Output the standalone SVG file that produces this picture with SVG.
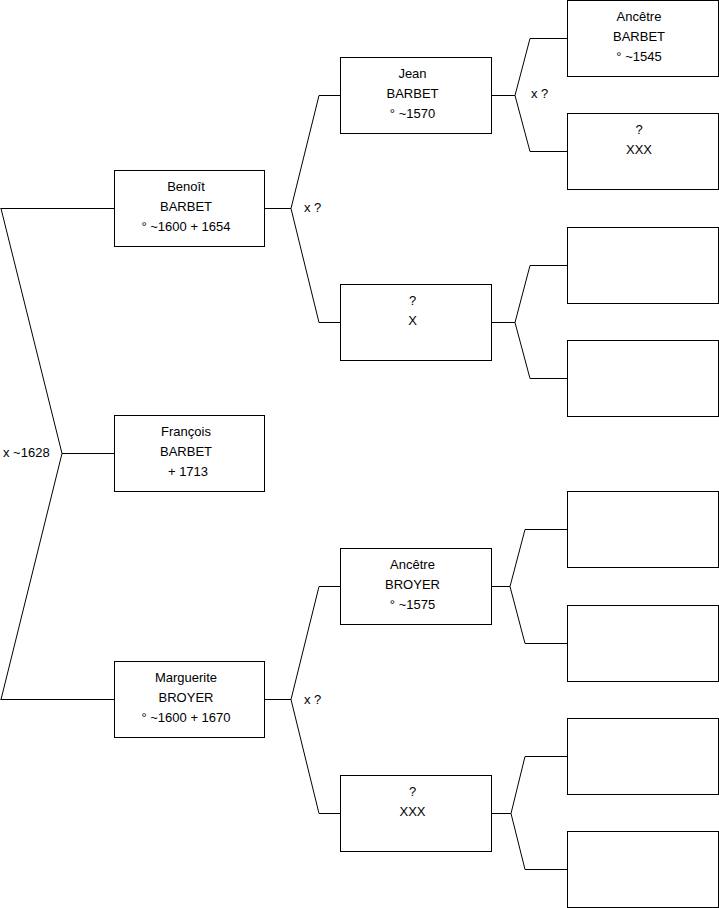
<svg xmlns="http://www.w3.org/2000/svg" width="719" height="908" viewBox="0 0 719 908">
<style>
.box{fill:#fff;stroke:#000;stroke-width:1}
.ln{fill:none;stroke:#000;stroke-width:1}
text{font-family:"Liberation Sans",Arial,sans-serif;font-size:13px;fill:#000}
.c{text-anchor:middle}
</style>
<rect width="719" height="908" fill="#fff"/>
<g id="connectors">
<path class="ln" d="M114.5 208.5H0.5M1 208.5L62 453.5L1 699.5M62 453.5H114.5M0.5 699.5H114.5"/>
<path class="ln" d="M264.5 208.5H291M291 208.5L319 95.5H340.5M291 208.5L319 322.5H340.5"/>
<path class="ln" d="M264.5 699.5H291M291 699.5L319 586.5H340.5M291 699.5L319 813.5H340.5"/>
<path class="ln" d="M491.5 95.5H515M515 95.5L530 38.5H567.5M515 95.5L530 151.5H567.5"/>
<path class="ln" d="M491.5 322.5H515M515 322.5L530 265.5H567.5M515 322.5L530 378.5H567.5"/>
<path class="ln" d="M491.5 586.5H510M510 586.5L525 529.5H567.5M510 586.5L525 643.5H567.5"/>
<path class="ln" d="M491.5 813.5H511M511 813.5L525 756.5H567.5M511 813.5L525 869.5H567.5"/>
<text x="3" y="456.5">x ~1628</text>
<text x="304" y="211.5">x ?</text>
<text x="304" y="704">x ?</text>
<text x="531" y="98">x ?</text>
</g>
<g id="benoit">
<rect class="box" x="114.5" y="170.5" width="150" height="76"/>
<text class="c" x="186" y="190.5">Benoît</text>
<text class="c" x="186" y="210.5">BARBET</text>
<text class="c" x="186" y="230.5">° ~1600 + 1654</text>
</g>
<g id="francois">
<rect class="box" x="114.5" y="415.5" width="150" height="76"/>
<text class="c" x="186" y="435.5">François</text>
<text class="c" x="186" y="455.5">BARBET</text>
<text class="c" x="188" y="475.5">+ 1713</text>
</g>
<g id="marguerite">
<rect class="box" x="114.5" y="661.5" width="150" height="76"/>
<text class="c" x="186" y="681.5">Marguerite</text>
<text class="c" x="186" y="701.5">BROYER</text>
<text class="c" x="186" y="721.5">° ~1600 + 1670</text>
</g>
<g id="jean">
<rect class="box" x="340.5" y="57.5" width="151" height="76"/>
<text class="c" x="412.5" y="77.5">Jean</text>
<text class="c" x="412.5" y="97.5">BARBET</text>
<text class="c" x="412.5" y="117.5">° ~1570</text>
</g>
<g id="x-unknown">
<rect class="box" x="340.5" y="284.5" width="151" height="76"/>
<text class="c" x="412.5" y="304.5">?</text>
<text class="c" x="412.5" y="324.5">X</text>
</g>
<g id="ancetre-broyer">
<rect class="box" x="340.5" y="548.5" width="151" height="76"/>
<text class="c" x="412.5" y="568.5">Ancêtre</text>
<text class="c" x="412.5" y="588.5">BROYER</text>
<text class="c" x="412.5" y="608.5">° ~1575</text>
</g>
<g id="xxx-2">
<rect class="box" x="340.5" y="775.5" width="151" height="76"/>
<text class="c" x="412.5" y="795.5">?</text>
<text class="c" x="412.5" y="815.5">XXX</text>
</g>
<g id="ancetre-barbet">
<rect class="box" x="567.5" y="0.5" width="151" height="76"/>
<text class="c" x="639" y="20.5">Ancêtre</text>
<text class="c" x="639" y="40.5">BARBET</text>
<text class="c" x="639" y="60.5">° ~1545</text>
</g>
<g id="xxx-3">
<rect class="box" x="567.5" y="113.5" width="151" height="76"/>
<text class="c" x="639" y="133.5">?</text>
<text class="c" x="639" y="153.5">XXX</text>
</g>
<g id="empty-1"><rect class="box" x="567.5" y="227.5" width="151" height="76"/></g>
<g id="empty-2"><rect class="box" x="567.5" y="340.5" width="151" height="76"/></g>
<g id="empty-3"><rect class="box" x="567.5" y="491.5" width="151" height="76"/></g>
<g id="empty-4"><rect class="box" x="567.5" y="605.5" width="151" height="76"/></g>
<g id="empty-5"><rect class="box" x="567.5" y="718.5" width="151" height="76"/></g>
<g id="empty-6"><rect class="box" x="567.5" y="831.5" width="151" height="76"/></g>
</svg>
